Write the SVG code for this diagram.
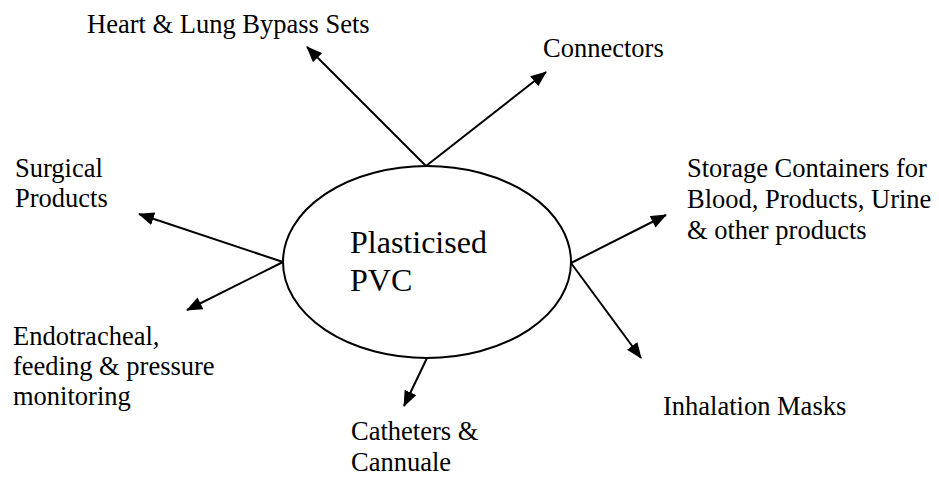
<svg xmlns="http://www.w3.org/2000/svg" width="939" height="477" viewBox="0 0 939 477">
<defs>
<marker id="ah" markerUnits="userSpaceOnUse" markerWidth="16" markerHeight="13" refX="15" refY="6.5" orient="auto">
<path d="M0,0 L16,6.5 L0,13 z" fill="#000"/>
</marker>
<style>
text{font-family:"Liberation Serif","Times New Roman",serif;font-size:26.5px;fill:#000}
.c{stroke:#000;stroke-width:2;fill:none;marker-end:url(#ah)}
</style>
</defs>
<rect width="939" height="477" fill="#fff"/>
<g id="center">
<ellipse cx="427" cy="262" rx="144" ry="96" fill="none" stroke="#000" stroke-width="2"/>
<text x="350" y="253" style="font-size:32px">Plasticised</text>
<text x="350" y="291" style="font-size:32px">PVC</text>
</g>
<g id="connectors">
<line class="c" x1="426" y1="166" x2="307" y2="47"/>
<line class="c" x1="426" y1="166" x2="546" y2="72"/>
<line class="c" x1="571" y1="263" x2="666" y2="215"/>
<line class="c" x1="571" y1="263" x2="641" y2="358"/>
<line class="c" x1="283" y1="262" x2="139" y2="214"/>
<line class="c" x1="283" y1="262" x2="187" y2="310"/>
<line class="c" x1="427" y1="358" x2="404" y2="406"/>
</g>
<g id="heart"><text x="87" y="33">Heart &amp; Lung Bypass Sets</text></g>
<g id="conn"><text x="543" y="57">Connectors</text></g>
<g id="storage">
<text x="687" y="177">Storage Containers for</text>
<text x="687" y="208">Blood, Products, Urine</text>
<text x="687" y="239">&amp; other products</text>
</g>
<g id="surgical">
<text x="15" y="177">Surgical</text>
<text x="15" y="207">Products</text>
</g>
<g id="endo">
<text x="13" y="345">Endotracheal,</text>
<text x="13" y="375">feeding &amp; pressure</text>
<text x="13" y="405">monitoring</text>
</g>
<g id="catheters">
<text x="351" y="440">Catheters &amp;</text>
<text x="351" y="471">Cannuale</text>
</g>
<g id="inhalation"><text x="663" y="415">Inhalation Masks</text></g>
</svg>
